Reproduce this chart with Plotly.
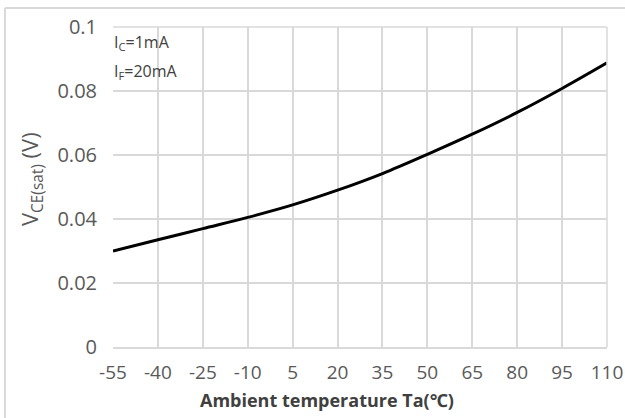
import plotly.graph_objects as go

temps = [-55, -40, -25, -10, 5, 20, 35, 50, 65, 80, 95, 110]
vce = [0.0300, 0.0335, 0.0370, 0.0405, 0.0444, 0.0490, 0.0542, 0.0602, 0.0665, 0.0733, 0.0808, 0.0888]
x_ticks = temps
y_ticks = [0, 0.02, 0.04, 0.06, 0.08, 0.1]
y_labels = ["0", "0.02", "0.04", "0.06", "0.08", "0.1"]

grid = "#d9d9d9"
txt = "#595959"
font = "Open Sans, Noto Sans, sans-serif"

W, H = 625, 418
L, R, T, B = 113, 18, 27, 71
pw, ph = W - L - R, H - T - B

def px_x(p):
    return (p - L) / pw

def px_y(p):
    return (H - B - p) / ph

fig = go.Figure()
fig.add_trace(go.Scatter(x=temps, y=vce, mode="lines", line=dict(color="black", width=3, shape="spline"),
                         showlegend=False, hoverinfo="skip"))

fig.update_layout(
    width=W, height=H,
    margin=dict(l=L, r=R, t=T, b=B, autoexpand=False),
    paper_bgcolor="white", plot_bgcolor="white",
    font=dict(family=font, color=txt),
    xaxis=dict(range=[-55, 110], tickvals=x_ticks, ticktext=[str(t) for t in x_ticks],
               showgrid=True, gridcolor=grid, gridwidth=1.5, zeroline=False,
               showline=True, linecolor=grid, linewidth=1.5, mirror=False,
               tickfont=dict(size=19, color=txt, family=font), ticks="",
               ticklabelstandoff=7, automargin=False),
    yaxis=dict(range=[0, 0.1], tickvals=y_ticks, ticktext=y_labels,
               showgrid=True, gridcolor=grid, gridwidth=1.5, zeroline=False,
               showline=False, tickfont=dict(size=20, color=txt, family=font), ticks="",
               ticklabelstandoff=15, automargin=False),
)

# top and right plot border
fig.add_shape(type="line", xref="paper", yref="paper", x0=0, x1=1, y0=1, y1=1, line=dict(color=grid, width=1.5))
fig.add_shape(type="line", xref="paper", yref="paper", x0=1, x1=1, y0=0, y1=1, line=dict(color=grid, width=1.5))

# outer chart frame (left and top edges)
fx0 = px_x(5)
fy1 = px_y(8)
fig.add_shape(type="line", xref="paper", yref="paper", x0=fx0, x1=fx0, y0=px_y(418), y1=fy1,
              line=dict(color=grid, width=2))
fig.add_shape(type="line", xref="paper", yref="paper", x0=fx0, x1=px_x(625), y0=fy1, y1=fy1,
              line=dict(color=grid, width=2))

fig.add_annotation(xref="paper", yref="paper", x=px_x(112), y=px_y(29), xanchor="left", yanchor="top",
                   text="I<sub>C</sub>=1mA", showarrow=False, font=dict(size=16, color="#404040", family=font))
fig.add_annotation(xref="paper", yref="paper", x=px_x(112), y=px_y(58), xanchor="left", yanchor="top",
                   text="I<sub>F</sub>=20mA", showarrow=False, font=dict(size=16, color="#404040", family=font))

# axis titles
fig.add_annotation(xref="paper", yref="paper", x=px_x(327), y=px_y(400), xanchor="center", yanchor="middle",
                   text="<b>Ambient temperature Ta(℃)</b>", showarrow=False,
                   font=dict(size=18, color="#404040", family=font))
fig.add_annotation(xref="paper", yref="paper", x=px_x(31), y=px_y(179), xanchor="center", yanchor="middle",
                   text="V<sub>CE(sat)</sub> (V)", textangle=-90, showarrow=False,
                   font=dict(size=22, color=txt, family=font))

fig.write_html("out.html", config={"displayModeBar": False},
               post_script="document.body.style.margin='0';document.body.style.overflow='hidden';")
